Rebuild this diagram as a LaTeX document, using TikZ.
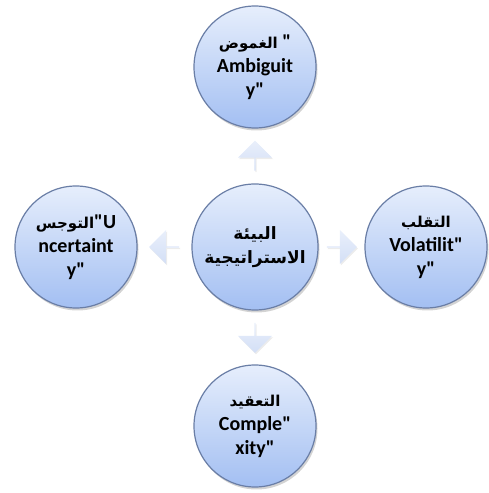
\documentclass[tikz,border=0pt]{standalone}
\usepackage{fontspec}
\setmainfont{Carlito}
\newfontfamily\latinfont{Carlito}
\newfontfamily\arabicfont[Script=Arabic]{DejaVu Sans}
\TeXXeTstate=1
\usetikzlibrary{shapes.arrows,shadows,calc}
\definecolor{ringline}{HTML}{6A7EA6}
\definecolor{bubbletop}{HTML}{E6EEFC}
\definecolor{bubblebot}{HTML}{A3BFF2}
\definecolor{arrowtop}{HTML}{E9EFFB}
\definecolor{arrowbot}{HTML}{D3DFF6}
\newcommand{\arword}[1]{{\arabicfont\fontsize{15}{24}\selectfont\beginR #1\endR}}

\begin{document}
\begin{tikzpicture}[x=1pt,y=1pt,
  bubble/.style={circle, draw=ringline, line width=1.2pt, top color=bubbletop, bottom color=bubblebot,
    minimum size=122pt, inner sep=0pt, align=center, font=\latinfont\fontsize{20}{24}\selectfont\bfseries,
    drop shadow={opacity=0.35, shadow xshift=1.5pt, shadow yshift=-2.5pt}},
  hub/.style={bubble, minimum size=126pt},
  blockarrow/.style={single arrow, draw=none, top color=arrowtop, bottom color=arrowbot,
    minimum width=34pt, minimum height=30pt, single arrow head extend=6pt, inner sep=0pt,
    drop shadow={opacity=0.15, shadow xshift=1pt, shadow yshift=-1.5pt}}]
  \useasboundingbox (0,0) rectangle (488,493);

  % the five circles
  \node[hub] (env) at (255,246) {{\arabicfont\fontsize{17}{24}\selectfont\beginR البيئة\endR}\\
    {\arabicfont\fontsize{17}{24}\selectfont\beginR الاستراتيجية\endR}};
  \node[bubble] (amb) at (255,426) {\arword{الغموض} "\\Ambiguit\\y"};
  \node[bubble] (unc) at (76,246) {\arword{التوجس}"U\\ncertaint\\y"};
  \node[bubble] (vol) at (426,246) {\arword{التقلب}\\Volatilit"\\y"};
  \node[bubble] (cpx) at (255,67) {\arword{التعقيد}\\Comple"\\xity"};

  % block arrows between them
  \node[blockarrow, shape border rotate=90] (toamb) at ($(env.north)!0.5!(amb.south)$) {};
  \node[blockarrow, shape border rotate=180] (tounc) at ($(env.west)!0.5!(unc.east)$) {};
  \node[blockarrow] (tovol) at ($(env.east)!0.5!(vol.west)$) {};
  \node[blockarrow, shape border rotate=270] (tocpx) at ($(env.south)!0.5!(cpx.north)$) {};
\end{tikzpicture}
\end{document}
